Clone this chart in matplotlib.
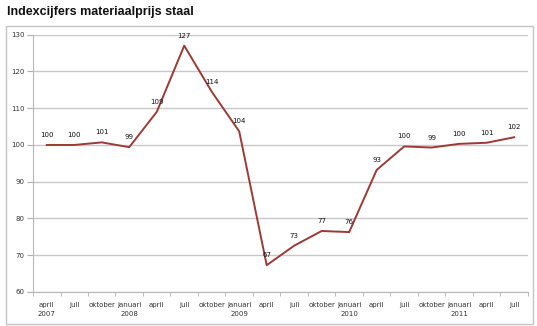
import matplotlib.pyplot as plt
from matplotlib.patches import Rectangle

# maanden en jaren langs de x-as
months = ["april", "juli", "oktober", "januari"] * 4 + ["april", "juli"]
years = ["2007", "", "", "2008", "", "", "", "2009", "", "", "", "2010",
         "", "", "", "2011", "", ""]
index_values = [100, 100, 100.7, 99.4, 109, 127, 114.5, 103.7, 67.3, 72.6,
                76.6, 76.3, 93.2, 99.6, 99.3, 100.3, 100.6, 102.1]
yticks = [60, 70, 80, 90, 100, 110, 120, 130]

line_color = "#9b3a36"
grid_color = "#c8c8c8"

fig = plt.figure(figsize=(5.37, 3.26), dpi=100)
ax = fig.add_axes([0.0615, 0.1043, 0.9215, 0.7893])

# rand rond de grafiek
fig.patches.append(Rectangle((0.011, 0.006), 0.981, 0.914, transform=fig.transFigure,
                             fill=False, edgecolor="#c4c4c4", linewidth=1))

x = list(range(len(index_values)))
ax.plot(x, index_values, color=line_color, linewidth=1.4, zorder=3)
for xi, v in zip(x, index_values):
    ax.annotate(f"{v:.0f}", (xi, v), xytext=(0, 5), textcoords="offset points",
                ha="center", va="bottom", fontsize=5, color="#111111", zorder=4)

ax.set_ylim(60, 130)
ax.set_yticks(yticks)
ax.set_xlim(-0.5, len(x) - 0.5)
ax.set_xticks(x)
ax.set_xticklabels([m + ("\n" + y if y else "\n") for m, y in zip(months, years)])
ax.set_xticks([i - 0.5 for i in range(len(x) + 1)], minor=True)
ax.tick_params(axis="x", which="major", length=0, pad=7, labelsize=5, labelcolor="#333333")
ax.tick_params(axis="x", which="minor", length=3, color="#b0b0b0", direction="out")
ax.tick_params(axis="y", length=4, color="#b0b0b0", labelsize=5,
               labelcolor="#333333", pad=2)
for t in ax.get_xticklabels():
    t.set_linespacing(1.6)

ax.yaxis.grid(True, color=grid_color, linewidth=1)
ax.set_axisbelow(True)
for side in ["top", "right"]:
    ax.spines[side].set_visible(False)
for side in ["left", "bottom"]:
    ax.spines[side].set_color("#b8b8b8")

fig.text(0.013, 0.963, "Indexcijfers materiaalprijs staal", fontsize=9,
         family="Liberation Sans", fontweight="bold", ha="left", va="center",
         color="#111111")

fig.savefig("out.png", dpi=100)
